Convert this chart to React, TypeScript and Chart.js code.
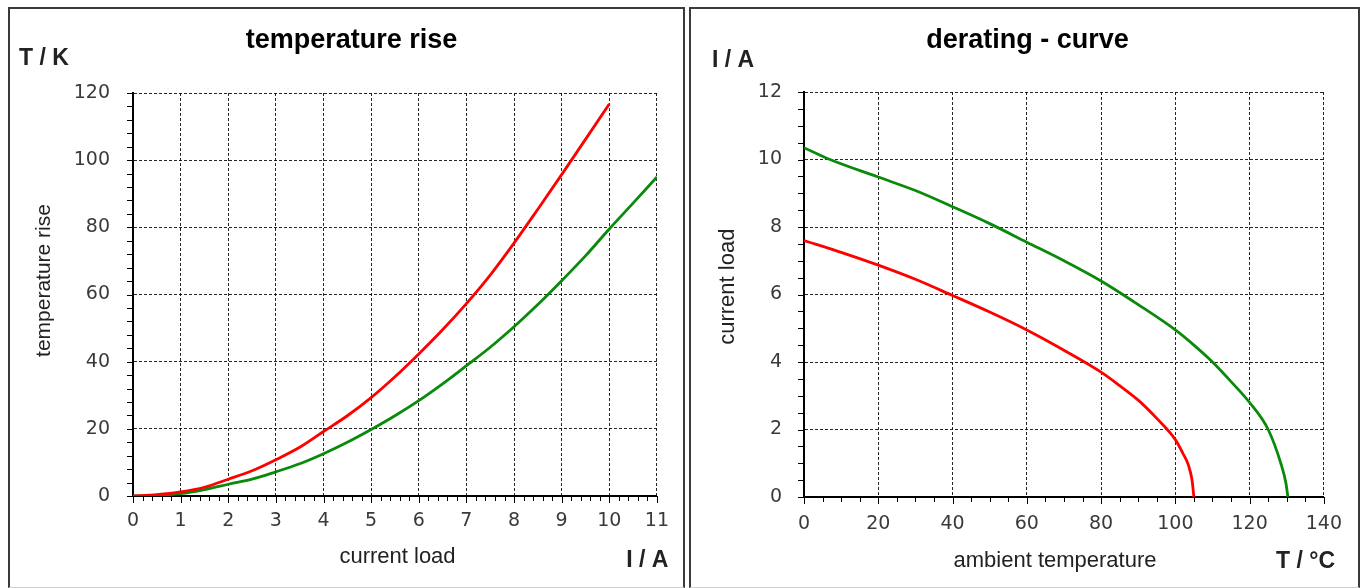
import React, { useEffect, useRef } from "react";
import { Chart, registerables } from "chart.js";

Chart.register(...registerables);

// ---------- temperature rise (left chart) ----------
const riseCurrentRed = [0, 0.5, 1, 1.5, 2, 2.5, 3, 3.5, 4, 4.5, 5, 5.5, 6, 6.5, 7, 7.5, 8, 8.5, 9, 9.5, 10];
const riseTempRed = [0, 0.4, 1.2, 2.6, 5.0, 7.5, 10.8, 14.5, 19.2, 23.9, 29.3, 35.5, 42.3, 49.5, 57.3, 65.8, 75.3, 85.4, 95.7, 106.2, 116.7];
const riseCurrentGreen = [0, 0.5, 1, 1.5, 2, 2.5, 3, 3.5, 4, 4.5, 5, 5.5, 6, 6.5, 7, 7.5, 8, 8.5, 9, 9.5, 10, 10.5, 11];
const riseTempGreen = [0, 0.2, 0.7, 1.9, 3.5, 5.0, 7.2, 9.6, 12.6, 16.0, 19.8, 23.9, 28.4, 33.4, 38.8, 44.3, 50.4, 57.0, 64.1, 71.5, 79.5, 87.2, 95.0];

// ---------- derating curve (right chart) ----------
const deratingTempRed = [0, 10, 20, 30, 40, 50, 60, 70, 80, 85, 90, 95, 100, 102, 103.5, 104.5, 105];
const deratingLoadRed = [7.6, 7.25, 6.87, 6.45, 5.97, 5.48, 4.95, 4.35, 3.7, 3.3, 2.87, 2.33, 1.7, 1.3, 0.95, 0.5, 0];
const deratingTempGreen = [0, 7, 20, 30, 40, 50, 60, 70, 80, 90, 100, 105, 110, 115, 120, 125, 128.4, 129.8, 130.3];
const deratingLoadGreen = [10.35, 10.0, 9.48, 9.08, 8.6, 8.1, 7.55, 7.0, 6.4, 5.7, 4.95, 4.5, 4.0, 3.42, 2.8, 2.0, 1.0, 0.4, 0];

// ---------- axis ranges / tick steps ----------
const riseXRange = [0, 11];
const riseXSteps = [1, 0.2];
const riseYRange = [0, 120];
const riseYSteps = [20, 4];
const deratingXRange = [0, 140];
const deratingXSteps = [20, 5];
const deratingYRange = [0, 12];
const deratingYSteps = [2, 0.5];

// ---------- texts ----------
const riseTexts = ["temperature rise", "T / K", "temperature rise", "current load", "I / A"];
const deratingTexts = ["derating - curve", "I / A", "current load", "ambient temperature", "T / °C"];

const RED = "#ff0000";
const GREEN = "#0a8a0a";
const TICK_FONT = { family: "'DejaVu Sans', Verdana, sans-serif", size: 19 };
const SANS = "'Liberation Sans', Arial, sans-serif";

type Layout = {
  canvasW: number;
  leftW: number;
  padTop: number;
  padRight: number;
  bottomH: number;
  xPad: number;
  yPad: number;
  title: [number, number];
  yUnit: [number, number];
  yTitle: [number, number, number];
  xTitle: [number, number, number];
  xUnit: [number, number];
};

function pts(xs: number[], ys: number[]) {
  return xs.map((x, i) => ({ x, y: ys[i] }));
}

function decorPlugin(texts: string[], L: Layout, xSteps: number[], ySteps: number[]) {
  return {
    id: "decor",
    afterDraw(chart: any) {
      const ctx = chart.ctx as CanvasRenderingContext2D;
      const xs = chart.scales.x;
      const ys = chart.scales.y;
      const a = chart.chartArea;
      ctx.save();
      ctx.strokeStyle = "#000";
      ctx.lineWidth = 1;
      // y ticks (outside, left)
      const ny = Math.round((ys.max - ys.min) / ySteps[1]);
      for (let i = 0; i <= ny; i++) {
        const v = ys.min + i * ySteps[1];
        const py = Math.round(ys.getPixelForValue(v)) + 0.5;
        ctx.beginPath();
        ctx.moveTo(a.left - 6, py);
        ctx.lineTo(a.left, py);
        ctx.stroke();
      }
      // x ticks (outside, below)
      const nx = Math.round((xs.max - xs.min) / xSteps[1]);
      const xr = Math.round(xSteps[0] / xSteps[1]);
      for (let i = 0; i <= nx; i++) {
        const v = xs.min + i * xSteps[1];
        const px = Math.round(xs.getPixelForValue(v)) + 0.5;
        const len = i % xr === 0 ? 7 : 5;
        ctx.beginPath();
        ctx.moveTo(px, a.bottom);
        ctx.lineTo(px, a.bottom + len);
        ctx.stroke();
      }
      // texts
      ctx.fillStyle = "#000";
      ctx.textBaseline = "alphabetic";
      ctx.font = `bold 27px ${SANS}`;
      ctx.textAlign = "center";
      ctx.fillText(texts[0], L.title[0], L.title[1]);
      ctx.font = `bold 23px ${SANS}`;
      ctx.textAlign = "left";
      ctx.fillStyle = "#222";
      ctx.fillText(texts[1], L.yUnit[0], L.yUnit[1]);
      ctx.textAlign = "right";
      ctx.fillText(texts[4], L.xUnit[0], L.xUnit[1]);
      ctx.font = `${L.xTitle[2]}px ${SANS}`;
      ctx.textAlign = "center";
      ctx.fillText(texts[3], L.xTitle[0], L.xTitle[1]);
      ctx.save();
      ctx.translate(L.yTitle[0], L.yTitle[1]);
      ctx.rotate(-Math.PI / 2);
      ctx.font = `${L.yTitle[2]}px ${SANS}`;
      ctx.textAlign = "center";
      ctx.fillText(texts[2], 0, 0);
      ctx.restore();
      ctx.restore();
    },
  };
}

function buildConfig(
  red: { x: number; y: number }[],
  green: { x: number; y: number }[],
  xRange: number[],
  xSteps: number[],
  yRange: number[],
  ySteps: number[],
  texts: string[],
  L: Layout
): any {
  const grid = { color: "rgba(0,0,0,0.85)", lineWidth: 1, drawTicks: false };
  const border = { display: true, color: "#000", width: 2, dash: [3, 2] };
  return {
    type: "line",
    data: {
      datasets: [
        { data: red, borderColor: RED, borderWidth: 2.8, pointRadius: 0, fill: false, cubicInterpolationMode: "monotone" },
        { data: green, borderColor: GREEN, borderWidth: 2.8, pointRadius: 0, fill: false, cubicInterpolationMode: "monotone" },
      ],
    },
    options: {
      animation: false,
      responsive: false,
      events: [],
      layout: { padding: { left: 0, top: L.padTop, right: L.padRight, bottom: 0 } },
      plugins: { legend: { display: false }, tooltip: { enabled: false }, title: { display: false } },
      scales: {
        x: {
          type: "linear",
          min: xRange[0],
          max: xRange[1],
          afterFit: (s: any) => {
            s.height = L.bottomH;
          },
          ticks: { stepSize: xSteps[0], padding: L.xPad, font: TICK_FONT, color: "#3a3a3a", maxRotation: 0, autoSkip: false },
          grid,
          border,
        },
        y: {
          type: "linear",
          min: yRange[0],
          max: yRange[1],
          afterFit: (s: any) => {
            s.width = L.leftW;
          },
          ticks: { stepSize: ySteps[0], padding: L.yPad, font: TICK_FONT, color: "#3a3a3a", autoSkip: false },
          grid,
          border,
        },
      },
    },
    plugins: [decorPlugin(texts, L, xSteps, ySteps)],
  };
}

const leftLayout: Layout = {
  canvasW: 673,
  leftW: 123,
  padTop: 84,
  padRight: 26,
  bottomH: 91,
  xPad: 14,
  yPad: 23,
  title: [341.5, 39],
  yUnit: [9, 56],
  yTitle: [39.5, 271.5, 21],
  xTitle: [387.5, 554.3, 22],
  xUnit: [658.3, 557.7],
};

const rightLayout: Layout = {
  canvasW: 667,
  leftW: 113,
  padTop: 83,
  padRight: 34,
  bottomH: 90,
  xPad: 16,
  yPad: 22,
  title: [336.5, 38.6],
  yUnit: [21, 57.7],
  yTitle: [43.3, 277.7, 22],
  xTitle: [364, 557.5, 22],
  xUnit: [644, 559],
};

function Panel({ left, width, config }: { left: number; width: number; config: () => any }) {
  const ref = useRef<HTMLCanvasElement>(null);
  useEffect(() => {
    const chart = new Chart(ref.current as HTMLCanvasElement, config());
    return () => chart.destroy();
  }, []);
  return (
    <div
      style={{
        position: "absolute",
        left,
        top: 7,
        width,
        height: 581,
        boxSizing: "border-box",
        borderTop: "2px solid #3a3a3a",
        borderLeft: "2px solid #3a3a3a",
        borderRight: "2px solid #3a3a3a",
        borderBottom: "1px solid #cfcfcf",
        background: "#fff",
      }}
    >
      <canvas ref={ref} width={width - 4} height={578} style={{ display: "block", width: width - 4, height: 578 }} />
    </div>
  );
}

export default function App() {
  return (
    <div>
      <Panel
        left={8}
        width={677}
        config={() =>
          buildConfig(
            pts(riseCurrentRed, riseTempRed),
            pts(riseCurrentGreen, riseTempGreen),
            riseXRange,
            riseXSteps,
            riseYRange,
            riseYSteps,
            riseTexts,
            leftLayout
          )
        }
      />
      <Panel
        left={689}
        width={671}
        config={() =>
          buildConfig(
            pts(deratingTempRed, deratingLoadRed),
            pts(deratingTempGreen, deratingLoadGreen),
            deratingXRange,
            deratingXSteps,
            deratingYRange,
            deratingYSteps,
            deratingTexts,
            rightLayout
          )
        }
      />
    </div>
  );
}
